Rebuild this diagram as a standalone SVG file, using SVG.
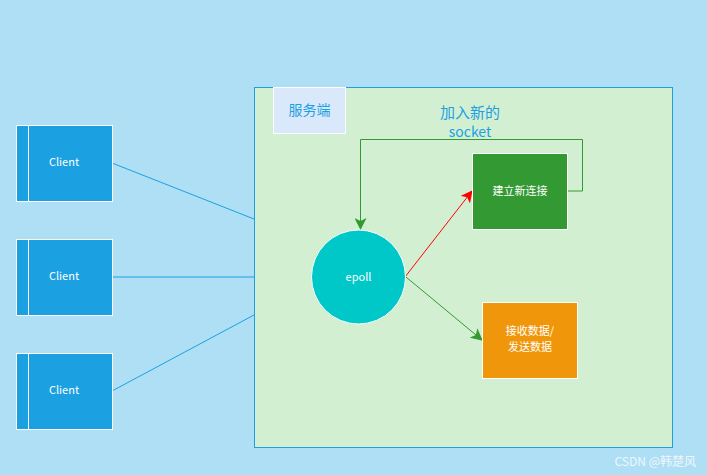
<svg xmlns="http://www.w3.org/2000/svg" width="707" height="475" viewBox="0 0 707 475">
<style>
text{font-family:"Noto Sans CJK SC","Liberation Sans",sans-serif;}
.client rect{fill:#1BA1E2;stroke:#fff;stroke-width:1;}
.client line{stroke:#fff;stroke-width:1;}
.wt{fill:#fff;font-size:11px;text-anchor:middle;}
.bt{fill:#1BA1E2;text-anchor:middle;}
.link{stroke:#1BA1E2;stroke-width:1;fill:none;}
</style>
<defs>
<marker id="ag" markerWidth="12" markerHeight="12" refX="11" refY="6" orient="auto" markerUnits="userSpaceOnUse"><path d="M0,0 L12,6 L0,12 L3,6 Z" fill="#339933"/></marker>
<marker id="ar" markerWidth="12" markerHeight="12" refX="11" refY="6" orient="auto" markerUnits="userSpaceOnUse"><path d="M0,0 L12,6 L0,12 L3,6 Z" fill="#FF0000"/></marker>
</defs>
<rect width="707" height="475" fill="#AFDFF5"/>
<g id="server">
<rect x="254.5" y="87.5" width="418" height="360" fill="#D3EFD2" stroke="#1BA1E2"/>
</g>
<g id="server-label">
<rect x="273.5" y="87.5" width="72" height="46" fill="#DAE8FC" stroke="#fff"/>
<text class="bt" x="309.5" y="115" font-size="14">服务端</text>
</g>
<g id="edge-label">
<text class="bt" x="470" y="118" font-size="15">加入新的</text>
<text class="bt" x="470" y="137" font-size="14">socket</text>
</g>
<g id="connectors">
<line class="link" x1="112" y1="163" x2="254" y2="219"/>
<line class="link" x1="112" y1="277" x2="254" y2="277"/>
<line class="link" x1="112" y1="391" x2="254" y2="315"/>
<polyline points="567,191 582.5,191 582.5,139.5 360.5,139.5 360.5,229" fill="none" stroke="#339933" marker-end="url(#ag)"/>
<line x1="405" y1="277" x2="472" y2="191" stroke="#FF0000" marker-end="url(#ar)"/>
<line x1="406" y1="277" x2="482" y2="340" stroke="#339933" marker-end="url(#ag)"/>
</g>
<g id="client1" class="client">
<rect x="16.5" y="125.5" width="96" height="76"/><line x1="28.5" y1="125.5" x2="28.5" y2="201.5"/>
<text class="wt" x="64" y="166">Client</text>
</g>
<g id="client2" class="client">
<rect x="16.5" y="239.5" width="96" height="76"/><line x1="28.5" y1="239.5" x2="28.5" y2="315.5"/>
<text class="wt" x="64" y="280">Client</text>
</g>
<g id="client3" class="client">
<rect x="16.5" y="353.5" width="96" height="76"/><line x1="28.5" y1="353.5" x2="28.5" y2="429.5"/>
<text class="wt" x="64" y="394">Client</text>
</g>
<g id="epoll">
<circle cx="358.5" cy="277" r="47" fill="#00C8C8" stroke="#fff"/>
<text class="wt" x="358.5" y="281">epoll</text>
</g>
<g id="new-conn">
<rect x="472.5" y="153.5" width="95" height="76" fill="#339933" stroke="#fff"/>
<text class="wt" x="520" y="195">建立新连接</text>
</g>
<g id="io">
<rect x="482.5" y="302.5" width="95" height="76" fill="#F0960A" stroke="#fff"/>
<text class="wt" x="530" y="335">接收数据/</text>
<text class="wt" x="530" y="351">发送数据</text>
</g>
<text x="696" y="466" font-size="12" fill="#EEF6FA" text-anchor="end">CSDN @韩楚风</text>
</svg>
